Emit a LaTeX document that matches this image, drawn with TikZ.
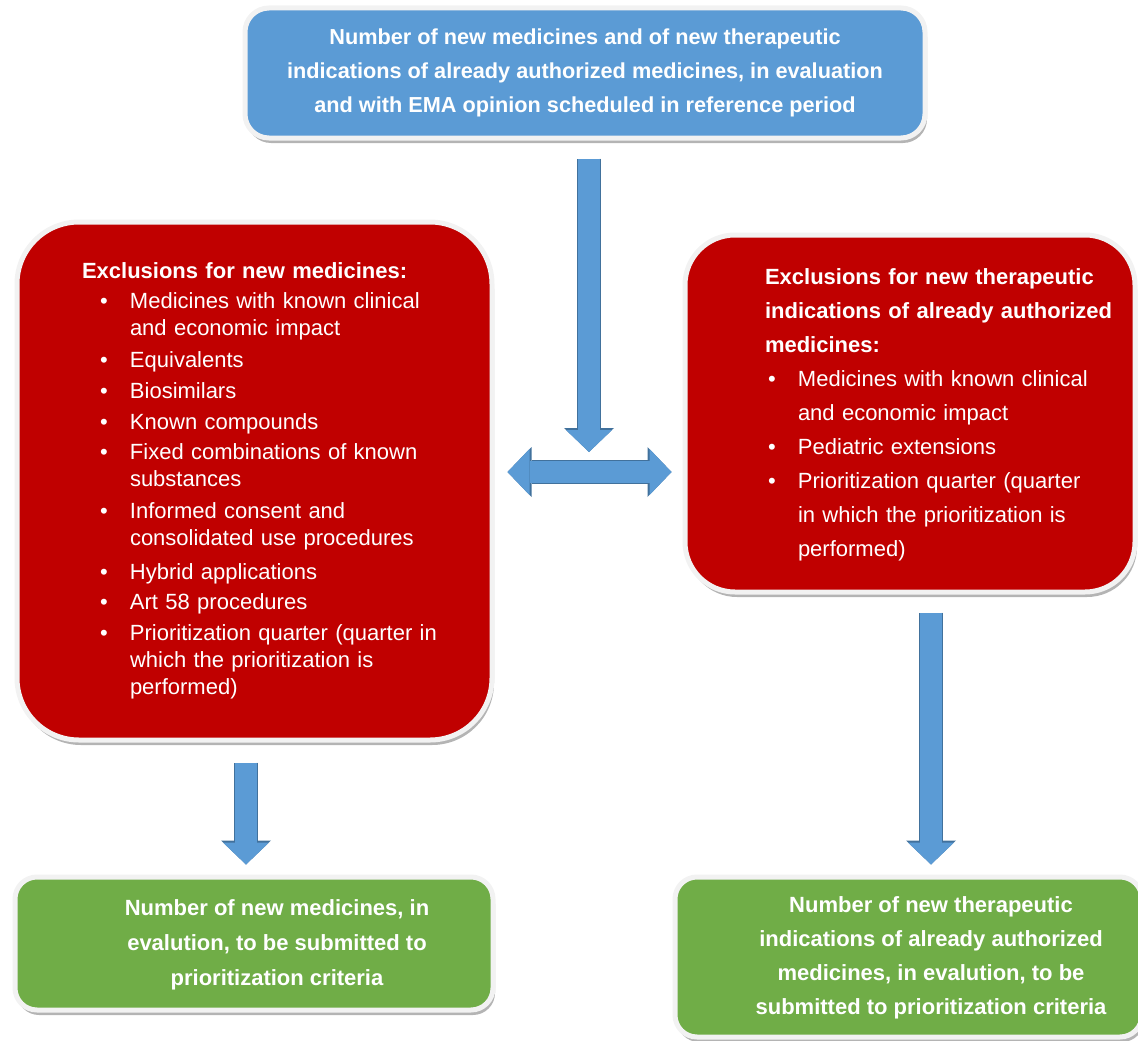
\documentclass[tikz,border=0pt]{standalone}
\usepackage{fontspec}
\setmainfont{Liberation Sans}
\usetikzlibrary{arrows.meta, positioning, shadows, calc}
\definecolor{boxblue}{RGB}{91,155,213}
\definecolor{boxred}{RGB}{192,0,0}
\definecolor{boxgreen}{RGB}{112,173,71}
\definecolor{arrowblue}{RGB}{91,155,213}
\definecolor{arrowedge}{RGB}{65,113,156}
\definecolor{rimgray}{RGB}{242,242,242}

\begin{document}
\begin{tikzpicture}[
    x=1pt, y=-1pt,
    box/.style={rectangle, draw=rimgray, line width=5pt, inner sep=0pt, text=white,
        drop shadow={shadow xshift=2pt, shadow yshift=-5pt, fill=black!45, opacity=0.65}},
    topbox/.style={box, fill=boxblue, rounded corners=24pt, align=center, font=\fontsize{21.7}{34}\selectfont\bfseries},
    exclbox/.style={box, fill=boxred, align=left, font=\fontsize{22}{27}\selectfont},
    countbox/.style={box, fill=boxgreen, rounded corners=22pt, font=\fontsize{22}{35}\selectfont\bfseries},
    blocktip/.tip={Triangle[length=22pt, width=46pt, line width=0pt]},
    edgetip/.tip={Triangle[length=24pt, width=50pt, line width=0pt]},
    singlearrow/.style={draw=arrowblue, line width=22pt, -blocktip,
        preaction={draw=arrowedge, line width=24pt, -edgetip}},
    doublearrow/.style={draw=arrowblue, line width=22pt, blocktip-blocktip,
        preaction={draw=arrowedge, line width=24pt, edgetip-edgetip}}
]
    \useasboundingbox (0,0) rectangle (1138,1041);

    % Top box
    \node[topbox, minimum width=680pt, minimum height=130pt] (evalcount) at (585,73) {
        Number of new medicines and of new therapeutic\\
        indications of already authorized medicines, in evaluation\\
        and with EMA opinion scheduled in reference period
    };

    % Exclusions - new medicines
    \node[exclbox, rounded corners=62pt, minimum width=475pt, minimum height=518pt, text width=475pt] (exclnew) at (254.5,481) {%
        \hspace*{65pt}\begin{tabular}{@{\hspace{18pt}}p{30pt}@{}l@{}}
        \multicolumn{2}{@{}l@{}}{\bfseries Exclusions for new medicines:}\\[3pt]
        \textbullet & Medicines with known clinical\\
                    & and economic impact\\[5pt]
        \textbullet & Equivalents\\[4pt]
        \textbullet & Biosimilars\\[4pt]
        \textbullet & Known compounds\\[3pt]
        \textbullet & Fixed combinations of known\\
                    & substances\\[5pt]
        \textbullet & Informed consent and\\
                    & consolidated use procedures\\[7pt]
        \textbullet & Hybrid applications\\[3pt]
        \textbullet & Art 58 procedures\\[4pt]
        \textbullet & Prioritization quarter (quarter in\\
                    & which the prioritization is\\
                    & performed)
        \end{tabular}};

    % Exclusions - new indications
    \node[exclbox, rounded corners=50pt, minimum width=450pt, minimum height=357pt, text width=450pt,
        font=\fontsize{22}{34}\selectfont] (exclold) at (910,413.5) {%
        \hspace*{80pt}\begin{tabular}{@{\hspace{3pt}}p{30pt}@{}l@{}}
        \multicolumn{2}{@{}l@{}}{\bfseries Exclusions for new therapeutic}\\
        \multicolumn{2}{@{}l@{}}{\bfseries indications of already authorized}\\
        \multicolumn{2}{@{}l@{}}{\bfseries medicines:}\\
        \textbullet & Medicines with known clinical\\
                    & and economic impact\\
        \textbullet & Pediatric extensions\\
        \textbullet & Prioritization quarter (quarter\\
                    & in which the prioritization is\\
                    & performed)
        \end{tabular}};

    % Result boxes
    \node[countbox, minimum width=478pt, minimum height=133pt] (countnew) at (254,943.5) {%
        \hspace*{46pt}\begin{tabular}{@{}c@{}}
        Number of new medicines, in\\
        evalution, to be submitted to\\
        prioritization criteria
        \end{tabular}};
    \node[countbox, minimum width=467pt, minimum height=160pt, font=\fontsize{22}{34}\selectfont\bfseries] (countold) at (908.5,957) {%
        \hspace*{45pt}\begin{tabular}{@{}c@{}}
        Number of new therapeutic\\
        indications of already authorized\\
        medicines, in evalution, to be\\
        submitted to prioritization criteria
        \end{tabular}};

    % Arrows
    \coordinate (meet) at (589,452);
    \coordinate (cross) at (589,472);
    \draw[singlearrow] ($(evalcount.south -| meet)+(0,18)$) -- (meet);
    \draw[doublearrow] ($(exclnew.east |- cross)+(13,0)$) -- ($(exclold.west |- cross)+(-11,0)$);
    \draw[singlearrow] ($(exclnew.south -| countnew.north)+(-8,20)$) -- ($(countnew.north)+(-8,-10)$);
    \draw[singlearrow] ($(exclold.south)+(21,18)$) -- ($(countold.north -| exclold.south)+(21,-10)$);
\end{tikzpicture}
\end{document}
